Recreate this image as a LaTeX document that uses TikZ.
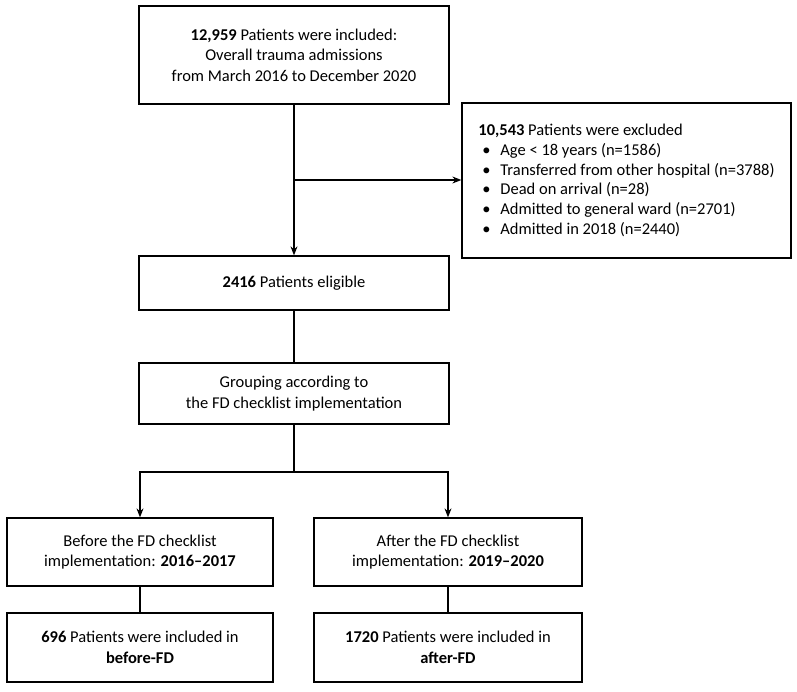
\documentclass[tikz,border=0pt]{standalone}
\usepackage{fontspec}
\setmainfont{Carlito}
\usetikzlibrary{arrows.meta}
\begin{document}
\begin{tikzpicture}[x=1pt,y=-1pt,
  box/.style={draw=black,line width=1.3pt,rectangle,inner sep=0pt,align=center,
    font=\fontsize{16.5}{20.5}\selectfont},
  conn/.style={line width=1.2pt},
  arr/.style={conn,-{Stealth[length=9pt,width=7pt]}}]
\useasboundingbox (0,0) rectangle (797,691);
\node[box,minimum width=310pt,minimum height=98pt] (top) at (294,55)
  {\textbf{12,959} Patients were included:\\Overall trauma admissions\\from March 2016 to December 2020};
\node[box,minimum width=329pt,minimum height=155pt,align=left,font=\fontsize{16.5}{19.8}\selectfont] (excl) at (626.5,180.5)
  {\textbf{10,543} Patients were excluded\\
   \makebox[22pt][l]{\hspace{4pt}\textbullet}Age < 18 years (n=1586)\\
   \makebox[22pt][l]{\hspace{4pt}\textbullet}Transferred from other hospital (n=3788)\\
   \makebox[22pt][l]{\hspace{4pt}\textbullet}Dead on arrival (n=28)\\
   \makebox[22pt][l]{\hspace{4pt}\textbullet}Admitted to general ward (n=2701)\\
   \makebox[22pt][l]{\hspace{4pt}\textbullet}Admitted in 2018 (n=2440)};
\node[box,minimum width=310pt,minimum height=54pt] (elig) at (294,283)
  {\textbf{2416} Patients eligible};
\node[box,minimum width=310pt,minimum height=61pt] (group) at (294,393.5)
  {Grouping according to\\the FD checklist implementation};
\node[box,minimum width=266pt,minimum height=68pt] (before) at (140,552)
  {Before the FD checklist\\implementation: \textbf{2016--2017}};
\node[box,minimum width=268pt,minimum height=68pt] (after) at (448,552)
  {After the FD checklist\\implementation: \textbf{2019--2020}};
\node[box,minimum width=266pt,minimum height=69pt] (inbefore) at (140,647.5)
  {\textbf{696} Patients were included in\\\textbf{before-FD}};
\node[box,minimum width=268pt,minimum height=69pt] (inafter) at (448,647.5)
  {\textbf{1720} Patients were included in\\\textbf{after-FD}};
\coordinate (b1) at (294,180);
\coordinate (split) at (294,472);
\draw[arr] (top.south) -- (elig.north);
\draw[arr] (b1) -- (excl.west |- b1);
\draw[conn] (elig.south) -- (group.north);
\draw[conn] (group.south) -- (split);
\draw[arr] (split) -| (before.north);
\draw[arr] (split) -| (after.north);
\draw[conn] (before.south) -- (inbefore.north);
\draw[conn] (after.south) -- (inafter.north);
\end{tikzpicture}
\end{document}
